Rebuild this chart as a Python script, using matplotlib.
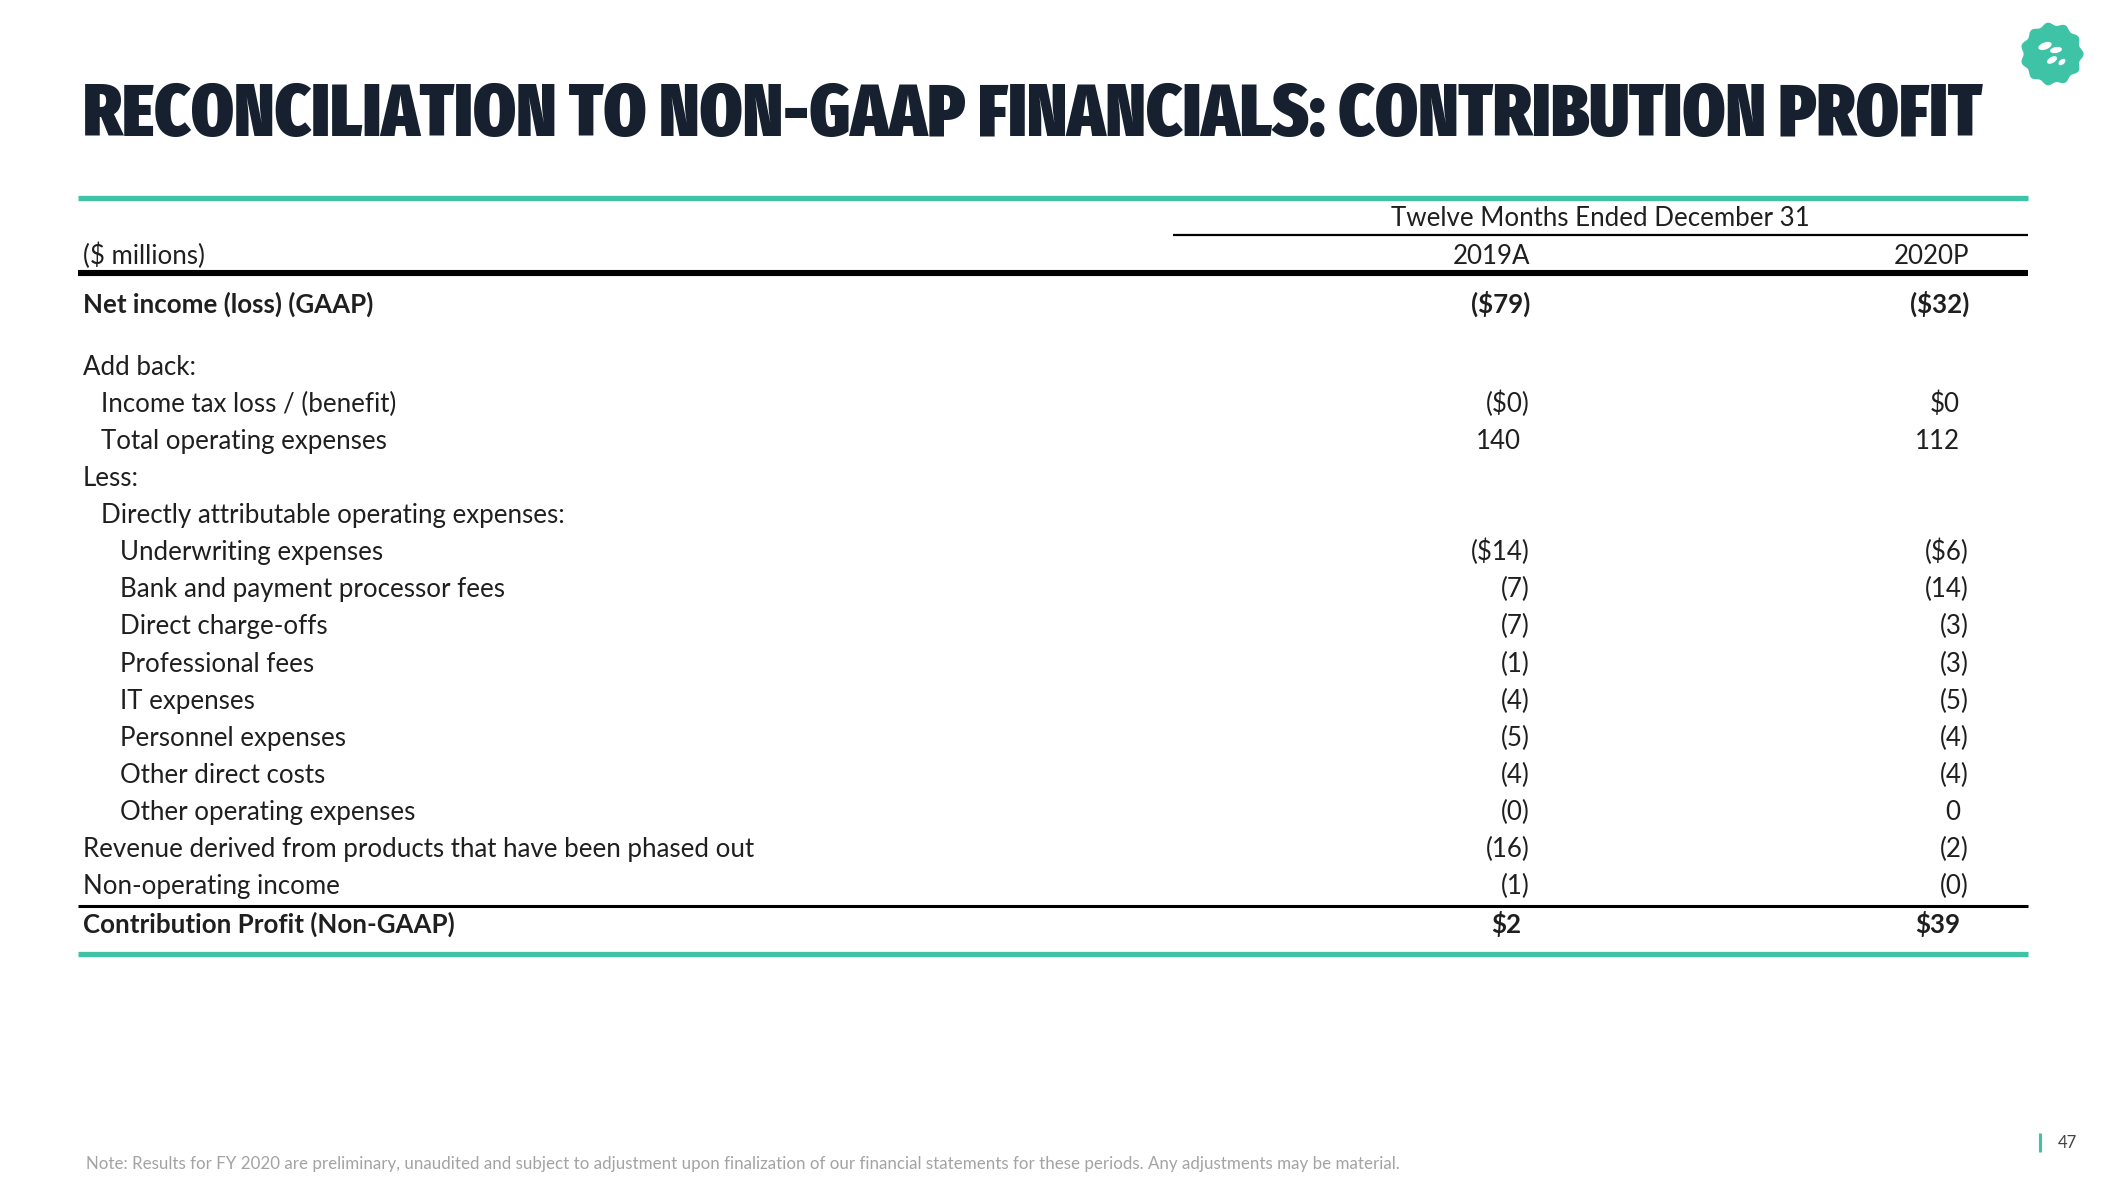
import matplotlib
matplotlib.use("Agg")
import matplotlib.pyplot as plt
import numpy as np
from matplotlib.patches import Polygon, Ellipse
from matplotlib import font_manager as fm
import os

# ---------------- data ----------------
TITLE = "RECONCILIATION TO NON-GAAP FINANCIALS: CONTRIBUTION PROFIT"
PERIOD_HEADER = "Twelve Months Ended December 31"
UNIT_LABEL = "($ millions)"
columns = ["2019A", "2020P"]

labels = [
    "Net income (loss) (GAAP)",
    "Add back:",
    "Income tax loss / (benefit)",
    "Total operating expenses",
    "Less:",
    "Directly attributable operating expenses:",
    "Underwriting expenses",
    "Bank and payment processor fees",
    "Direct charge-offs",
    "Professional fees",
    "IT expenses",
    "Personnel expenses",
    "Other direct costs",
    "Other operating expenses",
    "Revenue derived from products that have been phased out",
    "Non-operating income",
    "Contribution Profit (Non-GAAP)",
]
indent_level = [0, 0, 1, 1, 0, 1, 2, 2, 2, 2, 2, 2, 2, 2, 0, 0, 0]
bold_row = [True] + [False] * 15 + [True]
values_2019 = ["($79)", "", "($0)", "140", "", "", "($14)", "(7)", "(7)", "(1)",
               "(4)", "(5)", "(4)", "(0)", "(16)", "(1)", "$2"]
values_2020 = ["($32)", "", "$0", "112", "", "", "($6)", "(14)", "(3)", "(3)",
               "(5)", "(4)", "(4)", "0", "(2)", "(0)", "$39"]

NOTE = ("Note: Results for FY 2020 are preliminary, unaudited and subject to adjustment "
        "upon finalization of our financial statements for these periods. "
        "Any adjustments may be material.")
PAGE = "47"

# ---------------- style ----------------
W, H = 2110, 1178
TEAL = "#3ec3a6"
NAVY = "#16202e"
INK = "#1f1f1f"
BODY_FONT = ["Lato", "DejaVu Sans"]


def pick_title_font():
    files = [f.fname for f in fm.fontManager.ttflist]
    prefs = [("extracondensedblack",), ("extracondensedextrabold",), ("extracondensedbold",),
             ("condensedblack",), ("condensedextrabold",), ("condensedbold",),
             ("narrow", "bold"), ("semicondensedbold",)]
    for keys in prefs:
        for fn in sorted(files):
            b = os.path.basename(fn).lower().replace("-", "").replace("_", "")
            if "italic" in b:
                continue
            if all(k in b for k in keys):
                return fm.FontProperties(fname=fn)
    return fm.FontProperties(family="DejaVu Sans", weight="bold")


TITLE_FP = pick_title_font()

fig = plt.figure(figsize=(W / 100, H / 100), dpi=100)
ax = fig.add_axes([0, 0, 1, 1])
ax.set_xlim(0, W)
ax.set_ylim(H, 0)
ax.axis("off")
renderer = fig.canvas.get_renderer()


def fit_width(t, target):
    bb = t.get_window_extent(renderer)
    t.set_fontsize(t.get_fontsize() * target / bb.width)


# title
title = ax.text(83, 136, TITLE, fontproperties=TITLE_FP, color=NAVY,
                ha="left", va="baseline")
title.set_fontsize(50)
fit_width(title, 1899)

# logo
th = np.linspace(0, 2 * np.pi, 400)
rr = 30 + 1.6 * np.cos(11 * th)
ax.add_patch(Polygon(np.column_stack([2052 + rr * np.cos(th), 54 + rr * np.sin(th)]),
                     closed=True, color=TEAL, lw=0))
for (cx, cy, w, h, a) in [(2045, 46, 14, 7, -20), (2056, 50, 12, 6, -10),
                          (2052, 60, 11, 6, -30), (2062, 62, 8, 5, -40)]:
    ax.add_patch(Ellipse((cx, cy), w, h, angle=a, color="white", lw=0))

# table geometry
X0, X1 = 78, 2028
COL_R = [1530, 1969]     # right edge incl. closing paren
PAREN_W = 9
indent_x = [83, 101, 120]

# probe body font size by longest label
probe = ax.text(0, 0, labels[14], family=BODY_FONT, fontsize=16)
fit_width(probe, 674)
FS = probe.get_fontsize()
probe.remove()

# rules
ax.plot([X0, X1], [198, 198], color=TEAL, lw=3.8, solid_capstyle="butt")
ax.plot([1173, X1], [235, 235], color="black", lw=1.6, solid_capstyle="butt")
ax.plot([X0, X1], [273, 273], color="black", lw=4.4, solid_capstyle="butt")
ax.plot([X0, X1], [906, 906], color="black", lw=2.2, solid_capstyle="butt")
ax.plot([X0, X1], [954, 954], color=TEAL, lw=3.8, solid_capstyle="butt")

CAP = 8  # half cap height offset to baseline
ax.text(1600, 218 + CAP, PERIOD_HEADER, family=BODY_FONT, fontsize=FS, color=INK,
        ha="center", va="baseline")
ax.text(83, 256 + CAP, UNIT_LABEL, family=BODY_FONT, fontsize=FS, color=INK,
        ha="left", va="baseline")
for c, xr in zip(columns, COL_R):
    ax.text(xr, 256 + CAP, c, family=BODY_FONT, fontsize=FS, color=INK,
            ha="right", va="baseline")

# row positions
row_y = []
for i in range(len(labels)):
    if i == 0:
        row_y.append(305)
    elif i == len(labels) - 1:
        row_y.append(925)
    else:
        row_y.append(367 + (i - 1) * 37.07)

for i, lab in enumerate(labels):
    wt = "bold" if bold_row[i] else "normal"
    y = row_y[i] + CAP
    ax.text(indent_x[indent_level[i]], y, lab, family=BODY_FONT, fontsize=FS,
            weight=wt, color=INK, ha="left", va="baseline")
    for vals, xr in zip([values_2019, values_2020], COL_R):
        v = vals[i]
        if not v:
            continue
        xx = xr if v.endswith(")") else xr - PAREN_W
        ax.text(xx, y, v, family=BODY_FONT, fontsize=FS, weight=wt, color=INK,
                ha="right", va="baseline")

# footnote
note = ax.text(86, 1164, NOTE, family=BODY_FONT, fontsize=9, color="#a3a3a3",
               ha="left", va="center")
fit_width(note, 1313)

# page number
ax.plot([2040, 2040], [1133, 1152], color=TEAL, lw=2.2, solid_capstyle="butt")
ax.text(2058, 1143, PAGE, family=BODY_FONT, fontsize=12, color="#444444",
        ha="left", va="center")

fig.savefig("out.png", dpi=100, facecolor="white")
